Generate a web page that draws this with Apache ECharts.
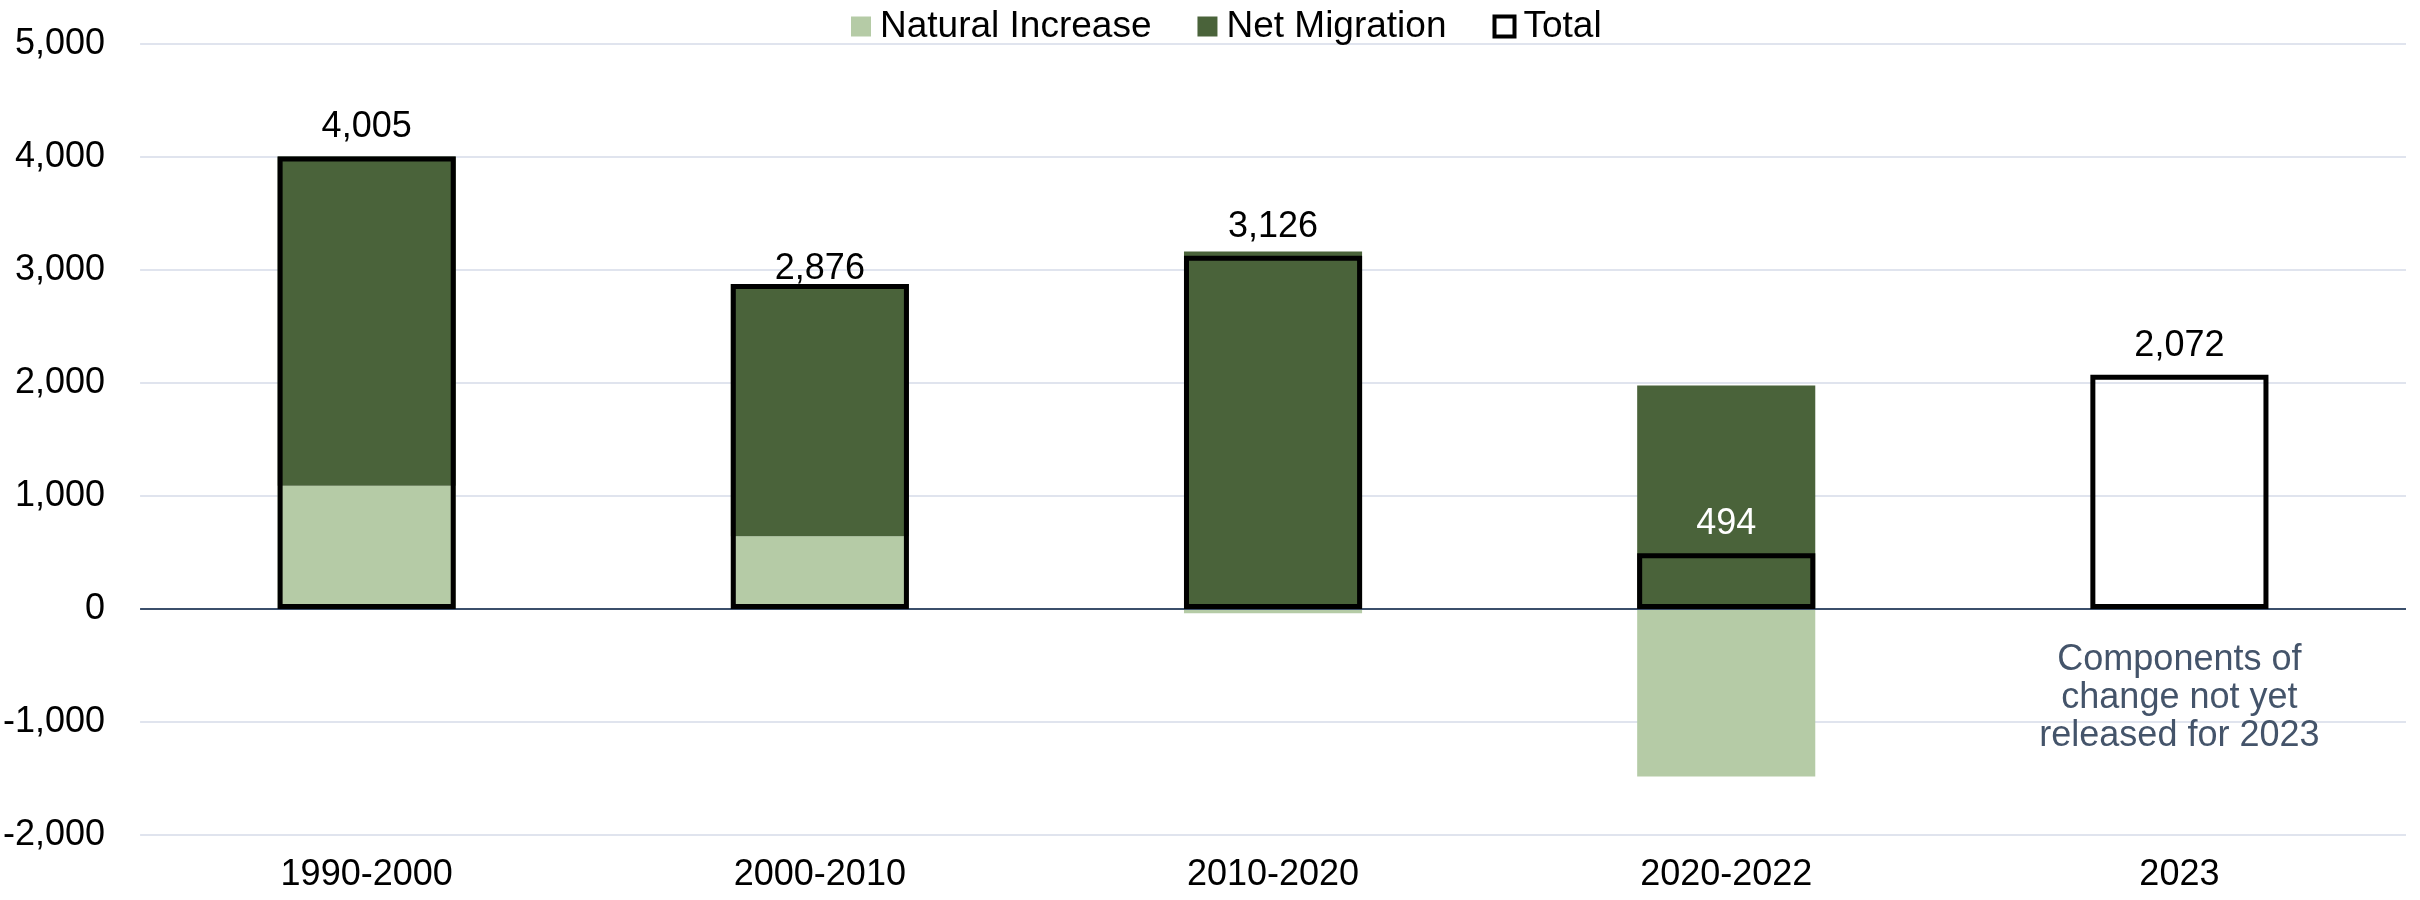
<!DOCTYPE html>
<html>
<head>
<meta charset="utf-8">
<script src="https://cdn.jsdelivr.net/npm/echarts@6/dist/echarts.min.js"></script>
<style>
  html, body { margin: 0; padding: 0; background: #fff; }
  #chart { width: 2420px; height: 900px; }
</style>
</head>
<body>
<div id="chart"></div>
<script>
const categories = ['1990-2000', '2000-2010', '2010-2020', '2020-2022', '2023'];
const naturalIncrease = [1090, 644, -38, -1483, null];
const netMigration = [2915, 2232, 3164, 1977, null];
const totals = [4005, 2876, 3126, 494, 2072];
const yTicks = { min: -2000, max: 5000, interval: 1000 };
const noteText = 'Components of\nchange not yet\nreleased for 2023';

const FONT = '"Liberation Sans", Arial, sans-serif';
const fmt = (v) => Number(v).toLocaleString('en-US');

const chart = echarts.init(document.getElementById('chart'));

// label tweaks per bar, same as the source chart
const labelColor = { '2020-2022': '#ffffff' };
const labelDistance = { '2000-2010': -3 };

const totalData = totals.map((v, i) => ({
  value: v,
  label: {
    color: labelColor[categories[i]] || '#000',
    distance: labelDistance[categories[i]] ?? 11
  }
}));

chart.setOption({
  animation: false,
  textStyle: { fontFamily: FONT },
  legend: {
    top: 3,
    left: 846,
    itemWidth: 20,
    itemHeight: 20,
    itemGap: 46,
    textStyle: { fontSize: 37, color: '#000', fontFamily: FONT, padding: [0, 0, 0, 4] },
    data: [
      { name: 'Natural Increase', icon: 'rect' },
      { name: 'Net Migration', icon: 'rect' },
      { name: 'Total', icon: 'rect', itemStyle: { color: '#fff', borderColor: '#000', borderWidth: 4 } }
    ]
  },
  grid: { left: 139, right: 14, top: 44, bottom: 65, containLabel: false },
  xAxis: {
    type: 'category',
    data: categories,
    axisLine: { show: false },
    axisTick: { show: false },
    axisLabel: { fontSize: 36, color: '#000', margin: 22, fontFamily: FONT }
  },
  yAxis: {
    type: 'value',
    min: yTicks.min,
    max: yTicks.max,
    interval: yTicks.interval,
    axisLine: { show: false },
    axisTick: { show: false },
    axisLabel: { fontSize: 36, color: '#000', margin: 35, formatter: fmt, fontFamily: FONT },
    splitLine: { lineStyle: { color: '#E0E4EE', width: 2 } }
  },
  series: [
    {
      name: 'Natural Increase',
      type: 'bar',
      stack: 'components',
      barWidth: '39.3%',
      itemStyle: { color: '#B5CBA6' },
      data: naturalIncrease
    },
    {
      name: 'Net Migration',
      type: 'bar',
      stack: 'components',
      barWidth: '39.3%',
      itemStyle: { color: '#4A633A' },
      data: netMigration
    },
    {
      name: 'Total',
      type: 'bar',
      barWidth: '39.3%',
      barGap: '-100%',
      z: 5,
      itemStyle: { color: 'rgba(0,0,0,0)', borderColor: '#000', borderWidth: 5 },
      label: {
        show: true,
        position: 'top',
        fontSize: 36,
        fontFamily: FONT,
        formatter: (p) => fmt(p.value)
      },
      data: totalData,
      markLine: {
        silent: true,
        symbol: 'none',
        label: { show: false },
        lineStyle: { color: '#3B4F6B', width: 2, type: 'solid' },
        data: [{ yAxis: 0 }]
      },
      markPoint: {
        silent: true,
        symbol: 'rect',
        symbolSize: 0,
        data: [{ coord: ['2023', -790], value: 0 }],
        label: {
          show: true,
          position: 'inside',
          formatter: noteText,
          fontSize: 36,
          lineHeight: 38,
          color: '#44546A',
          align: 'center',
          fontFamily: FONT
        }
      }
    }
  ]
});
</script>
</body>
</html>
